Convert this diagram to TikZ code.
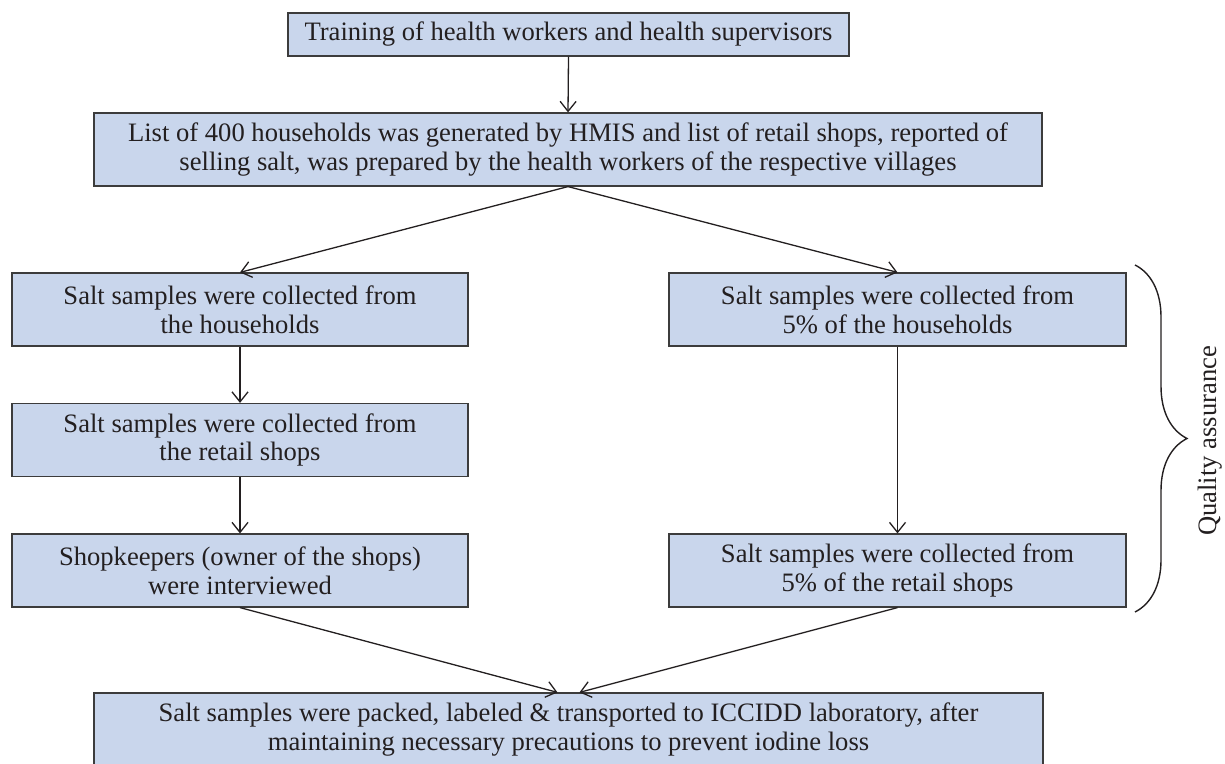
\documentclass[tikz,border=0pt]{standalone}
\usepackage{fontspec}
\setmainfont{Liberation Serif}
\usetikzlibrary{arrows.meta,calc,positioning,decorations.pathreplacing}
\definecolor{BoxBlue}{RGB}{201,214,236}
\definecolor{BoxEdge}{RGB}{60,60,60}
\definecolor{InkBlack}{RGB}{35,31,32}

\begin{document}
\begin{tikzpicture}[x=0.5pt,y=0.5pt,>={Straight Barb[length=5pt,width=8pt]},
    stepbox/.style={draw=BoxEdge,fill=BoxBlue,line width=0.6pt,align=center,inner sep=0pt,
      minimum height=36.5pt,text=InkBlack,font=\fontsize{13.3}{14.4}\selectfont},
    flow/.style={->,InkBlack,line width=0.65pt}]
      \useasboundingbox (0,0) rectangle (1225,764);
      \node[stepbox,minimum width=280.5pt,minimum height=21.5pt] (train) at (568.5,729.5)
        {Training of health workers and health supervisors};
      \node[stepbox,minimum width=474pt] (list) at (568,614.5)
        {List of 400 households was generated by HMIS and list of retail shops, reported of\\
         selling salt, was prepared by the health workers of the respective villages};
      \node[stepbox,minimum width=228pt] (hh) at (240,454.5)
        {Salt samples were collected from\\the households};
      \node[stepbox,minimum width=228pt] (shops) at (240,324)
        {Salt samples were collected from\\the retail shops};
      \node[stepbox,minimum width=228pt] (keep) at (240,193.5)
        {Shopkeepers (owner of the shops)\\were interviewed};
      \node[stepbox,minimum width=228.5pt] (qahh) at (897.5,454.5)
        {Salt samples were collected from\\5\% of the households};
      \node[stepbox,minimum width=228.5pt] (qashops) at (897.5,193.5)
        {Salt samples were collected from\\5\% of the retail shops};
      \node[stepbox,minimum width=474.5pt] (pack) at (568.5,34.5)
        {Salt samples were packed, labeled \& transported to ICCIDD laboratory, after\\
         maintaining necessary precautions to prevent iodine loss};
      \draw[flow] (train.south) -- (list.north);
      \draw[flow] (list.south) -- (hh.north);
      \draw[flow] (list.south) -- (qahh.north);
      \draw[flow] (hh) -- (shops);
      \draw[flow] (shops) -- (keep);
      \draw[flow] (qahh) -- (qashops);
      \draw[flow] (keep.south) -- ([xshift=-5.5pt]pack.north);
      \draw[flow] (qashops.south) -- ([xshift=5.5pt]pack.north);
      \draw[InkBlack,line width=0.7pt,decorate,decoration={brace,amplitude=26pt}]
        (1135,499) -- (1135,152);
      \node[rotate=90,text=InkBlack,font=\fontsize{13.3}{14.4}\selectfont] (qa) at (1210,323)
        {Quality assurance};
    \end{tikzpicture}
\end{document}
